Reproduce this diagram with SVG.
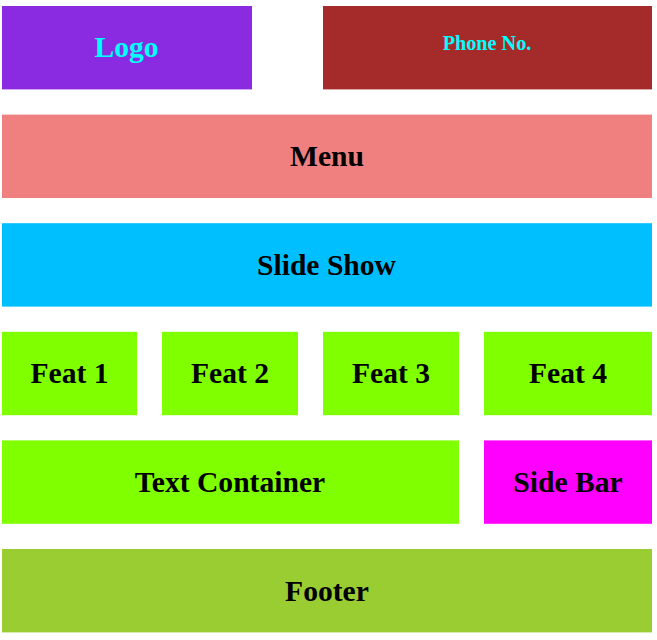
<svg xmlns="http://www.w3.org/2000/svg" width="657" height="640" viewBox="0 0 657 640">
<style>
text{font-family:"Liberation Serif","Times New Roman",serif;font-weight:bold;text-anchor:middle}
.big{font-size:29.6px;fill:#000}
.cy{fill:#00FFFF}
</style>
<rect width="657" height="640" fill="#fff"/>
<g id="logo"><rect x="2" y="6" width="250" height="83.4" fill="#8A2BE2"/><text x="126.5" y="56.8" class="cy" style="font-size:29.6px">Logo</text></g>
<g id="phone"><rect x="323" y="6" width="329" height="83.4" fill="#A52A2A"/><text x="487" y="50" class="cy" style="font-size:20.2px">Phone No.</text></g>
<g id="menu"><rect x="2" y="114.6" width="650" height="83.4" fill="#F08080"/><text x="327" y="166.2" class="big">Menu</text></g>
<g id="slideshow"><rect x="2" y="223.2" width="650" height="83.4" fill="#00BFFF"/><text x="326.5" y="274.8" class="big">Slide Show</text></g>
<g id="feat1"><rect x="2" y="331.8" width="135" height="83.4" fill="#7FFF00"/><text x="69.5" y="383.4" class="big">Feat 1</text></g>
<g id="feat2"><rect x="162" y="331.8" width="136" height="83.4" fill="#7FFF00"/><text x="230" y="383.4" class="big">Feat 2</text></g>
<g id="feat3"><rect x="323" y="331.8" width="136" height="83.4" fill="#7FFF00"/><text x="391" y="383.4" class="big">Feat 3</text></g>
<g id="feat4"><rect x="484" y="331.8" width="168" height="83.4" fill="#7FFF00"/><text x="568" y="383.4" class="big">Feat 4</text></g>
<g id="textcontainer"><rect x="2" y="440.4" width="457" height="83.4" fill="#7FFF00"/><text x="230" y="492.4" class="big">Text Container</text></g>
<g id="sidebar"><rect x="484" y="440.4" width="168" height="83.4" fill="#FF00FF"/><text x="568" y="492.4" class="big">Side Bar</text></g>
<g id="footer"><rect x="2" y="549" width="650" height="83.4" fill="#9ACD32"/><text x="327" y="600.8" class="big">Footer</text></g>
<g id="connectors"></g>
</svg>
